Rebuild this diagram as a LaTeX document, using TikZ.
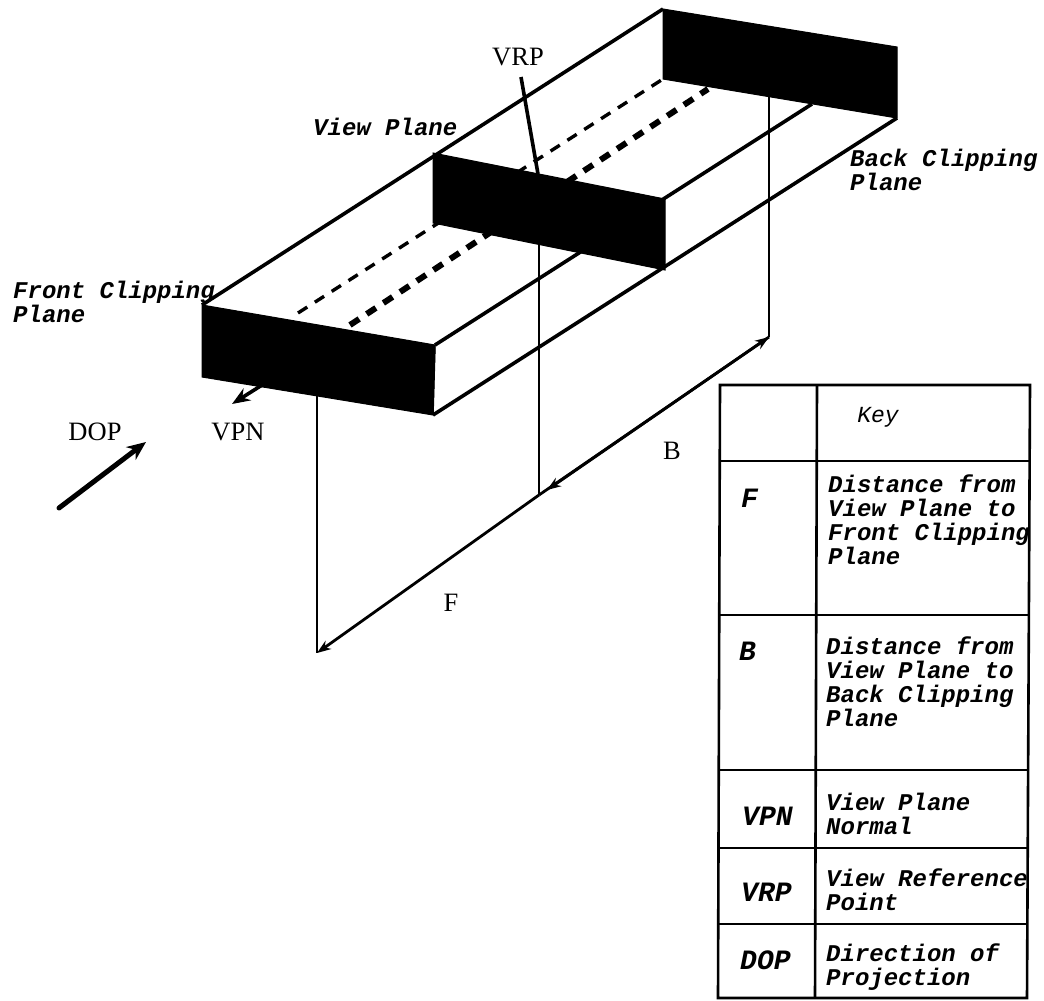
\documentclass[tikz,border=0pt]{standalone}
\usepackage{fontspec}
\usetikzlibrary{arrows.meta}
\setmainfont{Liberation Serif}
\newfontfamily\cbi[BoldFont=Liberation Mono Bold Italic,ItalicFont=Liberation Mono Italic]{Liberation Mono}
\tikzset{
  face/.style={fill=black,draw=black,line width=1pt,line join=miter},
  edge/.style={draw=black,line width=3.6pt},
  thindash/.style={draw=black,line width=3.4pt,dash pattern=on 11pt off 9pt},
  thickdash/.style={draw=black,line width=6pt,dash pattern=on 11pt off 9pt},
  drop/.style={draw=black,line width=2.4pt},
  dim/.style={draw=black,line width=2.8pt},
  tip/.style={-{Stealth[length=14pt,width=10pt]}},
  tbl/.style={draw=black,line width=2.6pt},
  serif/.style={font=\fontsize{26.5}{26.5}\selectfont,inner sep=0pt},
  lab/.style={font=\fontsize{24}{24}\selectfont\cbi\bfseries,align=left,inner sep=0pt,anchor=west},
  keyhead/.style={font=\fontsize{28}{28}\selectfont\cbi\bfseries,inner sep=0pt,anchor=west},
}
\begin{document}
\begin{tikzpicture}[x=1pt,y=-1pt]
\useasboundingbox (0,0) rectangle (1044,1001);
\coordinate (ftl) at (202,305); \coordinate (ftr) at (435,345);
\coordinate (fbr) at (433,415); \coordinate (fbl) at (202,377);
\coordinate (vtl) at (433,153); \coordinate (vtr) at (665,199);
\coordinate (vbr) at (665,270); \coordinate (vbl) at (433,223);
\coordinate (btl) at (663,9);   \coordinate (btr) at (897,47);
\coordinate (bbr) at (897,118); \coordinate (bbl) at (663,79);
% long edges
\draw[edge] (ftl) -- (btl);
\draw[edge] (ftr) -- (812,104);
\draw[edge] (fbr) -- (bbr);
\draw[edge,line width=1.5pt] (fbr) -- (ftr);
% hidden lines
\draw[thindash] (298,313) -- (bbl);
\draw[thickdash] (350,325) -- (708,89);
% vertical drops
\coordinate (fd) at (317,653); \coordinate (vd) at (539,495); \coordinate (bd) at (769,337);
\draw[drop] (317,390) -- (fd);
\draw[drop] (539,235) -- (vd);
\draw[drop] (769,90) -- (bd);
% faces
\fill[face] (ftl) -- (ftr) -- (fbr) -- (fbl) -- cycle;
\fill[face] (vtl) -- (vtr) -- (vbr) -- (vbl) -- cycle;
\fill[face] (btl) -- (btr) -- (bbr) -- (bbl) -- cycle;
% arrows
\coordinate (vrptail) at (521,77); \coordinate (vrphead) at (538,174);
\draw[edge] (vrptail) -- (vrphead);
\coordinate (vpnin) at (270,380); \coordinate (vpnout) at (232,404);
\draw[edge,-{Stealth[length=18pt,width=14pt]}] (vpnin) -- (vpnout);
\coordinate (doptail) at (59,508); \coordinate (dophead) at (146,442);
\draw[black,line width=5pt,line cap=round,-{Stealth[length=19pt,width=16pt]}] (doptail) -- (dophead);
\draw[dim,tip] (vd) -- (fd);
\draw[dim,tip] (vd) -- (bd);
\draw[dim,tip] (bd) -- (547,490);
% labels
\node[serif] (lvrp) at (518,57) {VRP};
\node[serif] (ldop) at (95,432) {DOP};
\node[serif] (lvpn) at (238,432) {VPN};
\node[serif] (lb) at (672,451) {B};
\node[serif] (lf) at (451,603) {F};
\node[lab] (lvp) at (313,127) {View Plane};
\node[lab] (lback) at (850,169.5) {Back Clipping\\Plane};
\node[lab] (lfront) at (13,301.5) {Front Clipping\\Plane};
% key table
\coordinate (t1) at (720,385); \coordinate (t2) at (817,385); \coordinate (t3) at (1030,385);
\coordinate (b1) at (718,998); \coordinate (b2) at (815,998); \coordinate (b3) at (1027,998);
\draw[tbl] (t1) -- (t3) -- (b3) -- (b1) -- cycle;
\draw[tbl] (t2) -- (b2);
\draw[tbl] (720,461) -- (1030,461);
\draw[tbl] (720,615) -- (1029,615);
\draw[tbl] (719,770) -- (1029,770);
\draw[tbl] (719,848) -- (1028,848);
\draw[tbl] (719,924) -- (1028,924);
\node[font=\fontsize{23}{23}\selectfont\cbi\itshape,inner sep=0pt] (kkey) at (878,417) {Key};
\node[keyhead] (kf) at (741,498) {F};
\node[lab] (kft) at (828,520) {Distance from\\View Plane to\\Front Clipping\\Plane};
\node[keyhead] (kb) at (739,651) {B};
\node[lab] (kbt) at (826,682) {Distance from\\View Plane to\\Back Clipping\\Plane};
\node[keyhead] (kvpn) at (742,816) {VPN};
\node[lab] (kvpnt) at (826,814) {View Plane\\Normal};
\node[keyhead] (kvrp) at (741,892) {VRP};
\node[lab] (kvrpt) at (826,890) {View Reference\\Point};
\node[keyhead] (kdop) at (740,960) {DOP};
\node[lab] (kdopt) at (826,967) {Direction of\\Projection};
\end{tikzpicture}
\end{document}
